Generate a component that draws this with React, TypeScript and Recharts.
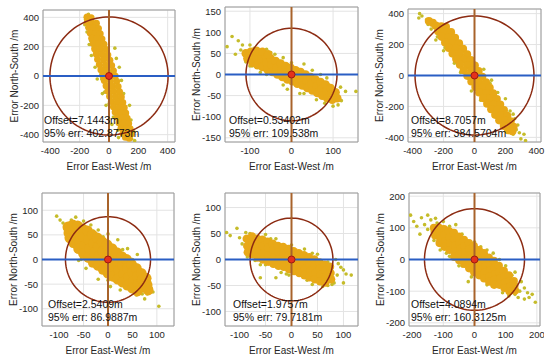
import { ScatterChart, Scatter, XAxis, YAxis, CartesianGrid, ReferenceLine, ReferenceDot, ReferenceArea } from "recharts";

type Pt = [number, number];

// text
const offsetLabels = ["7.1443", "0.53402", "8.7057", "2.5409", "1.9757", "4.0894"];
const err95 = [402.8773, 109.538, 384.5704, 86.9887, 79.7181, 160.3125];
const errLabels = ["402.8773", "109.538", "384.5704", "86.9887", "79.7181", "160.3125"];

// axis limits (symmetric) and ticks
const limits = [450, 160, 430, 135, 128, 210];
const xTicks = [
  [-400, -200, 0, 200, 400],
  [-100, 0, 100],
  [-400, -200, 0, 200, 400],
  [-100, -50, 0, 50, 100],
  [-100, -50, 0, 50, 100],
  [-200, -100, 0, 100, 200],
];
const yTicks = [
  [-400, -200, 0, 200, 400],
  [-150, -100, -50, 0, 50, 100, 150],
  [-400, -200, 0, 200, 400],
  [-100, -50, 0, 50, 100],
  [-100, -50, 0, 50, 100],
  [-200, -100, 0, 100, 200],
];

// dense cores
const core1: Pt[] = [
  [-150, 402], [-122, 398],
  [-148, 366], [-116, 362], [-86, 360],
  [-138, 330], [-105, 326], [-72, 324],
  [-128, 294], [-93, 290], [-60, 288],
  [-118, 258], [-82, 254], [-48, 252],
  [-108, 222], [-70, 218], [-34, 216],
  [-98, 186], [-59, 182], [-20, 180],
  [-87, 150], [-47, 146], [-8, 144],
  [-78, 114], [-36, 110], [6, 108],
  [-66, 78], [-24, 74], [18, 72],
  [-55, 42], [-13, 38], [30, 36],
  [-44, 6], [-1, 2], [42, 0],
  [-32, -30], [10, -34], [52, -36],
  [-20, -66], [22, -70], [62, -72],
  [-8, -102], [33, -106], [72, -108],
  [4, -138], [45, -142], [84, -144],
  [16, -174], [56, -178], [94, -180],
  [30, -210], [68, -214], [104, -216],
  [42, -246], [79, -250], [114, -252],
  [56, -282], [91, -286], [124, -288],
  [68, -318], [102, -322], [134, -324],
  [82, -354], [114, -358], [144, -360],
  [96, -390], [125, -394], [150, -396],
  [112, -418], [138, -424],
];
const spray1: Pt[] = [
  [-140, 420], [-160, 385], [-150, 300], [-135, 215], [-120, 140], [-95, 60], [-80, -20],
  [50, 120], [40, 190], [70, 60], [85, -30], [100, -120], [140, -200], [150, -300],
  [170, -380], [155, -430], [-20, -200], [20, -330], [-45, -120], [65, -420], [175, -440],
  [-165, 350], [-105, 330], [-160, 400], [-150, 330], [-125, 240], [-100, 170], [-70, 80],
  [-50, -20], [-30, -110], [0, -190], [30, -280], [60, -370], [-60, 150], [-30, 60],
  [30, -100], [70, -160], [100, -250], [130, -320], [160, -400],
];

const core2: Pt[] = [
  [-110, 50], [-106, 38],
  [-98, 54], [-96, 40], [-94, 28],
  [-86, 52], [-84, 38], [-82, 22],
  [-74, 50], [-72, 34], [-70, 18],
  [-62, 44], [-60, 28], [-58, 12],
  [-50, 38], [-48, 22], [-46, 6],
  [-38, 32], [-36, 16], [-34, 0],
  [-26, 26], [-24, 10], [-22, -6],
  [-14, 20], [-12, 4], [-10, -12],
  [-2, 16], [0, 0], [2, -16],
  [10, 10], [12, -6], [14, -22],
  [22, 6], [24, -10], [26, -26],
  [34, 0], [36, -16], [38, -32],
  [46, -6], [48, -22], [50, -38],
  [58, -12], [60, -28], [62, -44],
  [70, -18], [72, -34], [74, -50],
  [82, -24], [84, -40], [86, -56],
  [94, -32], [96, -46], [98, -60],
  [106, -42], [110, -56],
  [-84, 56], [-70, 54], [-56, 48],
];
const spray2: Pt[] = [
  [-155, 66], [-143, 90], [-128, 80], [-118, 70], [-122, 58], [-100, 70], [-135, 48],
  [-95, 20], [-75, 5], [-110, 30], [-60, 60], [-40, 48], [-20, 40], [30, 25], [50, 10],
  [70, 0], [85, -8], [118, -30], [130, -40], [155, -40], [120, -62], [112, -72], [100, -75],
  [-10, -35], [20, -45], [60, -60], [-90, 62], [-50, 52], [0, 28], [90, -25], [-100, 20],
  [-60, 0], [-20, -25], [30, -45], [80, -68],
];

const core3: Pt[] = [
  [-295, 352], [-270, 340],
  [-250, 322], [-215, 318], [-185, 314],
  [-235, 286], [-193, 282], [-152, 280],
  [-212, 250], [-169, 246], [-126, 244],
  [-190, 214], [-144, 210], [-100, 208],
  [-166, 178], [-120, 174], [-74, 172],
  [-142, 142], [-95, 138], [-48, 136],
  [-118, 106], [-71, 102], [-24, 100],
  [-94, 70], [-46, 66], [2, 64],
  [-70, 34], [-22, 30], [26, 28],
  [-46, -2], [3, -6], [50, -8],
  [-20, -38], [27, -42], [74, -44],
  [6, -74], [52, -78], [98, -80],
  [30, -110], [76, -114], [120, -116],
  [56, -146], [101, -150], [144, -152],
  [82, -182], [125, -186], [166, -188],
  [108, -218], [150, -222], [190, -224],
  [134, -254], [174, -258], [212, -260],
  [160, -290], [199, -294], [234, -296],
  [190, -326], [223, -330], [252, -332],
  [218, -354], [245, -360],
];
const spray3: Pt[] = [
  [-355, 400], [-340, 385], [-360, 372], [-310, 360], [-280, 300], [-250, 230], [-200, 160],
  [-180, 260], [-130, 80], [-90, 20], [60, 40], [110, -30], [-20, -100], [200, -150],
  [230, -230], [260, -280], [270, -350], [290, -370], [320, -380], [300, -410], [330, -420],
  [250, -380], [280, -320], [40, -160], [-300, 330], [-240, 250], [-190, 180], [-130, 110],
  [-80, 40], [-30, -30], [20, -90], [70, -150], [120, -210], [170, -270], [-240, 320],
  [-120, 200], [-60, 130], [0, 80], [100, -50], [150, -110], [250, -250],
];

const core4: Pt[] = [
  [-82, 66], [-80, 54], [-78, 44],
  [-72, 70], [-70, 58], [-68, 46], [-70, 34],
  [-62, 68], [-60, 54], [-58, 38], [-60, 22],
  [-52, 62], [-50, 46], [-48, 28], [-50, 12],
  [-42, 58], [-40, 40], [-38, 22], [-40, 4],
  [-32, 50], [-30, 32], [-28, 14], [-30, -6],
  [-22, 44], [-20, 26], [-18, 8], [-20, -12],
  [-12, 36], [-10, 18], [-8, 0], [-10, -20],
  [-2, 30], [0, 10], [2, -10], [0, -28],
  [8, 22], [10, 2], [12, -16], [10, -34],
  [18, 14], [20, -4], [22, -22], [20, -40],
  [28, 6], [30, -12], [32, -30], [30, -46],
  [38, 0], [40, -18], [42, -36], [40, -52],
  [48, -10], [50, -26], [52, -44], [50, -58],
  [58, -18], [60, -34], [62, -50], [60, -64],
  [68, -28], [70, -42], [72, -56],
  [78, -38], [80, -52], [82, -62],
];
const spray4: Pt[] = [
  [-105, 88], [-98, 80], [-92, 74], [-88, 62], [-66, 86], [-50, 78], [-35, 70], [-20, 60],
  [0, 52], [20, 40], [40, 22], [-60, -2], [-45, -18], [-20, -40], [5, -55], [25, -62],
  [58, -72], [70, -70], [88, -58], [92, -66], [75, -80], [104, -95], [-75, 28], [60, 10],
  [-85, 50], [-75, 80], [-30, 58], [-10, 46], [30, 20], [50, 0], [75, -30], [-55, 0],
  [-35, -12], [0, -42], [35, -58], [80, -70], [85, -45],
];

const core5: Pt[] = [
  [-86, 40], [-85, 26], [-84, 14],
  [-76, 44], [-75, 32], [-74, 20], [-75, 10],
  [-66, 40], [-65, 28], [-64, 16], [-65, 4],
  [-56, 38], [-55, 26], [-54, 12], [-55, 0],
  [-46, 34], [-45, 22], [-44, 8], [-45, -4],
  [-36, 30], [-35, 18], [-34, 4], [-35, -8],
  [-26, 26], [-25, 14], [-24, 0], [-25, -12],
  [-16, 24], [-15, 12], [-14, -2], [-15, -14],
  [-6, 20], [-5, 8], [-4, -6], [-5, -18],
  [4, 16], [5, 4], [6, -10], [5, -22],
  [14, 12], [15, 0], [16, -14], [15, -26],
  [24, 8], [25, -4], [26, -18], [25, -30],
  [34, 4], [35, -8], [36, -22], [35, -34],
  [44, 0], [45, -12], [46, -26], [45, -38],
  [54, -6], [55, -18], [56, -30], [55, -42],
  [64, -10], [65, -22], [66, -34], [65, -44],
  [74, -14], [75, -26], [76, -38],
];
const spray5: Pt[] = [
  [-125, 52], [-118, 46], [-105, 60], [-100, 42], [-95, 30], [-88, 52], [-70, -2], [-60, -10],
  [-50, 48], [-30, 40], [-20, -25], [-5, -30], [-30, -35], [-60, -35], [25, 20], [50, 10],
  [85, 0], [90, -8], [95, -15], [100, -20], [88, -30], [82, -45], [105, -28], [115, -30],
  [100, -45], [60, -52], [40, -48], [70, -50], [-80, 50], [-40, 40], [0, 28], [40, 12],
  [70, -5], [-85, 5], [-50, -10], [-10, -28], [30, -40], [78, -48],
];

const core6: Pt[] = [
  [-130, 100], [-128, 88], [-126, 76],
  [-114, 100], [-112, 84], [-110, 66], [-112, 52],
  [-98, 96], [-96, 78], [-94, 58], [-96, 40],
  [-82, 90], [-80, 70], [-78, 50], [-80, 30],
  [-66, 84], [-64, 64], [-62, 44], [-64, 26], [-65, 8],
  [-50, 72], [-48, 52], [-46, 34], [-48, 16], [-49, -2],
  [-34, 62], [-32, 42], [-30, 22], [-32, 4], [-33, -14],
  [-18, 52], [-16, 32], [-14, 12], [-16, -8], [-17, -28],
  [-2, 42], [0, 20], [2, 0], [0, -20], [-1, -40],
  [14, 30], [16, 10], [18, -10], [16, -30], [15, -50],
  [30, 20], [32, -2], [34, -22], [32, -42], [31, -60],
  [46, 6], [48, -14], [50, -34], [48, -54], [47, -70],
  [62, -4], [64, -26], [66, -46], [64, -64], [63, -80],
  [78, -20], [80, -40], [82, -60], [80, -80],
  [94, -36], [96, -54], [98, -72], [96, -90],
  [110, -50], [112, -68], [114, -86], [112, -100],
  [126, -68], [128, -84], [130, -98],
];
const spray6: Pt[] = [
  [-205, 140], [-195, 120], [-185, 105], [-170, 132], [-160, 110], [-150, 140], [-150, 95],
  [-140, 125], [-175, 80], [-125, 130], [-100, 120], [-60, 110], [-110, 30], [-80, 10],
  [-40, -20], [-20, -70], [20, 40], [60, 20], [100, -20], [130, -40], [150, -70], [145, -100],
  [160, -90], [170, -105], [175, -120], [160, -125], [185, -110], [195, -135], [140, -120],
  [110, -115], [-120, 115], [-80, 105], [-40, 80], [0, 55], [40, 30], [80, 0], [120, -50],
  [-130, 60], [-90, 20], [-50, -20], [-10, -55], [40, -80], [90, -105], [130, -110],
];

const cores = [core1, core2, core3, core4, core5, core6];
const sprays = [spray1, spray2, spray3, spray4, spray5, spray6];

// plot boxes in page pixels
const boxes = [
  { left: 43, top: 10, w: 132, h: 132, dx: 1 },
  { left: 225, top: 7, w: 133, h: 135, dx: 4 },
  { left: 408, top: 9, w: 133, h: 133, dx: 3 },
  { left: 42, top: 193, w: 132, h: 133, dx: 6 },
  { left: 225, top: 193, w: 133, h: 133, dx: 8 },
  { left: 409, top: 193, w: 131, h: 133, dx: 2 },
];
const coreR = [3.5, 4.3, 4.1, 5.4, 4.3, 4.1];

const CORE = "#E8A817";
const SPRAY = "#C5BC2A";
const TXT = "#262626";

const toXY = (pts: Pt[]) => pts.map(([x, y]) => ({ x, y }));

// 95% circle outline around the origin
function ring(r: number) {
  const out: { x: number; y: number }[] = [];
  for (let k = 0; k <= 120; k++) {
    const a = (k / 120) * Math.PI * 2;
    out.push({ x: r * Math.cos(a), y: r * Math.sin(a) });
  }
  return out;
}

function Panel({ i }: { i: number }) {
  const D = limits[i];
  const b = boxes[i];
  const tick = { fill: TXT, fontSize: 9.5, fontFamily: "'Liberation Sans', Arial, sans-serif" };
  return (
    <>
      <div style={{ position: "absolute", left: b.left - 40, top: b.top - 4 }}>
        <ScatterChart width={b.w + 44} height={b.h + 38} margin={{ top: 4, right: 4, bottom: 0, left: 0 }}>
          <CartesianGrid stroke="#e3e3e3" />
          <XAxis
            type="number"
            dataKey="x"
            domain={[-D, D]}
            ticks={xTicks[i]}
            allowDataOverflow
            axisLine={false}
            tickLine={false}
            tickSize={0}
            tickMargin={5}
            height={34}
            tick={tick}
            label={{ value: "Error East-West /m", position: "insideBottom", offset: 6, fill: TXT, fontSize: 10 }}
          />
          <YAxis
            type="number"
            dataKey="y"
            domain={[-D, D]}
            ticks={yTicks[i]}
            allowDataOverflow
            axisLine={false}
            tickLine={false}
            tickSize={0}
            tickMargin={4}
            width={40}
            tick={tick}
            label={{
              value: "Error North-South /m",
              angle: -90,
              position: "insideLeft",
              offset: 11,
              fill: TXT,
              fontSize: 10,
              style: { textAnchor: "middle" },
            }}
          />
          <ReferenceArea x1={-D} x2={D} y1={-D} y2={D} fill="none" fillOpacity={0} stroke="#9a9a9a" />
          <Scatter
            data={toXY(sprays[i])}
            isAnimationActive={false}
            shape={(p: any) => <circle cx={p.cx} cy={p.cy} r={1.8} fill={SPRAY} />}
          />
          <Scatter
            data={toXY(cores[i])}
            isAnimationActive={false}
            shape={(p: any) => <circle cx={p.cx} cy={p.cy} r={coreR[i]} fill={CORE} />}
          />
          <ReferenceLine y={0} stroke="#2A5EC4" strokeWidth={2} zIndex={700} />
          <ReferenceLine x={0} stroke="#A8632B" strokeWidth={2} zIndex={700} />
          <Scatter
            data={ring(err95[i])}
            isAnimationActive={false}
            line={{ stroke: "#8C2B12", strokeWidth: 1.5 }}
            lineType="joint"
            shape={() => <g />}
          />
          <ReferenceDot x={0} y={0} r={3.5} fill="#E4321B" stroke="#9E1A10" strokeWidth={1} zIndex={800} />
        </ScatterChart>
      </div>
      <div
        style={{
          position: "absolute",
          left: b.left + b.dx,
          top: b.top + b.h - 28,
          fontSize: 10.5,
          lineHeight: "12.5px",
          color: "#111",
          whiteSpace: "nowrap",
          pointerEvents: "none",
        }}
      >
        <div>Offset={offsetLabels[i]}m</div>
        <div>95% err: {errLabels[i]}m</div>
      </div>
    </>
  );
}

export default function App() {
  return (
    <div
      style={{
        position: "absolute",
        left: 0,
        top: 0,
        width: 550,
        height: 359,
        background: "#fff",
        fontFamily: "'Liberation Sans', Arial, sans-serif",
        overflow: "hidden",
      }}
    >
      {[0, 1, 2, 3, 4, 5].map((i) => (
        <Panel key={i} i={i} />
      ))}
    </div>
  );
}
